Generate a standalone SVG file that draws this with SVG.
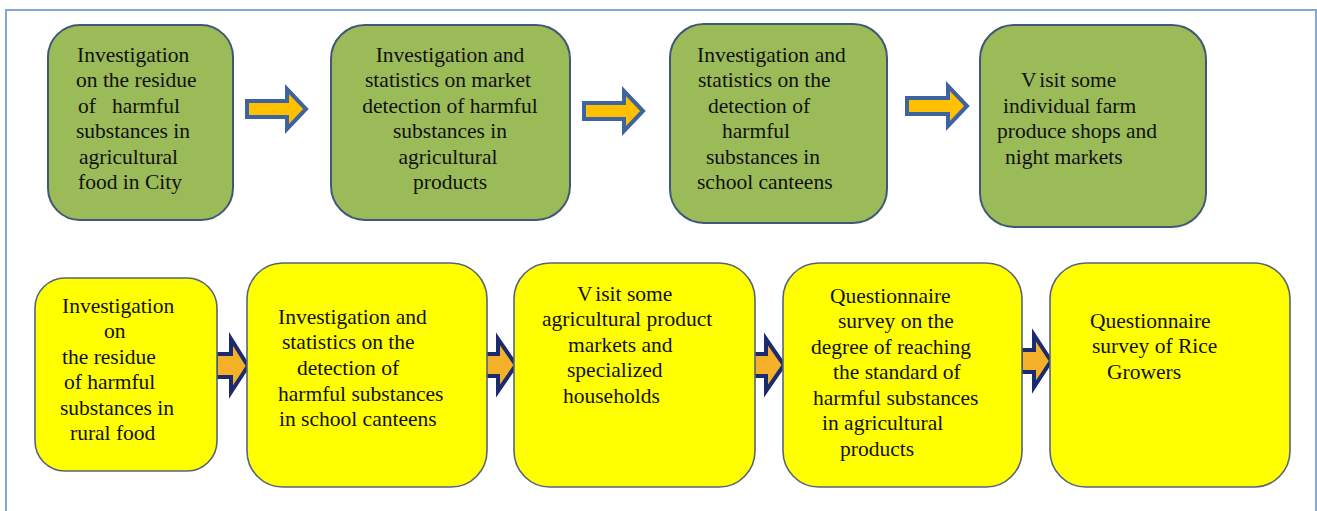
<svg xmlns="http://www.w3.org/2000/svg" width="1317" height="511" viewBox="0 0 1317 511">
<style>
.frame{fill:#ffffff;stroke:#86a6d6;stroke-width:2}
.g{fill:#9bbb59;stroke:#3f5878;stroke-width:2}
.y{fill:#ffff00;stroke:#56647a;stroke-width:1.6}
.t{font-family:"Liberation Serif","Times New Roman",serif;font-size:21.5px;fill:#111111}
.m{text-anchor:middle}
.ta{fill:#ffc000;stroke:#3e63a0;stroke-width:4;stroke-linejoin:miter}
.ba{fill:#f5b02a;stroke:#1c2a6e;stroke-width:4;stroke-linejoin:miter}
</style>
<rect x="0" y="0" width="1317" height="511" fill="#ffffff"/>
<rect class="frame" x="6" y="10" width="1310" height="520"/>

<g id="connectors">
<path class="ta" d="M247,101 L287,101 L287,89 L306,109 L287,129 L287,117 L247,117 Z"/>
<path class="ta" d="M584,103 L624,103 L624,91 L643,111 L624,131 L624,119 L584,119 Z"/>
<path class="ta" d="M907,98 L948,98 L948,86 L967,106 L948,126 L948,114 L907,114 Z"/>
<path class="ba" d="M216,354 L231,354 L231,339 L248,366 L231,392 L231,377 L216,377 Z"/>
<path class="ba" d="M484,354 L498,354 L498,339 L516,365 L498,391 L498,376 L484,376 Z"/>
<path class="ba" d="M753,354 L766,354 L766,339 L784,365 L766,391 L766,376 L753,376 Z"/>
<path class="ba" d="M1021,350 L1034,350 L1034,335 L1051,361 L1034,387 L1034,372 L1021,372 Z"/>
</g>

<g id="n1">
<rect class="g" x="48" y="25" width="185" height="195" rx="32"/>
<text class="t" x="77" y="62">Investigation</text>
<text class="t" x="76" y="87">on the  residue</text>
<text class="t" x="78" y="113">of<tspan dx="16">harmful</tspan></text>
<text class="t" x="76" y="138">substances in</text>
<text class="t" x="79" y="164">agricultural</text>
<text class="t" x="78" y="189">food in City</text>
</g>

<g id="n2">
<rect class="g" x="331" y="25" width="239" height="195" rx="34"/>
<text class="t m" x="450" y="62">Investigation  and</text>
<text class="t m" x="448" y="87">statistics on market</text>
<text class="t m" x="450" y="113">detection of harmful</text>
<text class="t m" x="450" y="138">substances in</text>
<text class="t m" x="448" y="164">agricultural</text>
<text class="t m" x="450" y="189">products</text>
</g>

<g id="n3">
<rect class="g" x="670" y="24" width="217" height="199" rx="34"/>
<text class="t" x="697" y="62">Investigation and</text>
<text class="t" x="698" y="87">statistics on the</text>
<text class="t" x="708" y="113">detection  of</text>
<text class="t" x="722" y="138">harmful</text>
<text class="t" x="706" y="164">substances in</text>
<text class="t" x="697" y="189">school canteens</text>
</g>

<g id="n4">
<rect class="g" x="980" y="25" width="226" height="202" rx="34"/>
<text class="t" x="1021" y="87">V<tspan dx="4">isit some</tspan></text>
<text class="t" x="1003" y="113">individual  farm</text>
<text class="t" x="997" y="138">produce shops and</text>
<text class="t" x="1005" y="164">night markets</text>
</g>

<g id="n5">
<rect class="y" x="35" y="278" width="182" height="193" rx="30"/>
<text class="t" x="62" y="313">Investigation</text>
<text class="t" x="104" y="338">on</text>
<text class="t" x="62" y="364">the  residue</text>
<text class="t" x="64" y="389">of  harmful</text>
<text class="t" x="60" y="415">substances in</text>
<text class="t" x="70" y="440">rural food</text>
</g>

<g id="n6">
<rect class="y" x="247" y="263" width="240" height="224" rx="36"/>
<text class="t" x="278" y="324">Investigation  and</text>
<text class="t" x="282" y="349">statistics on the</text>
<text class="t" x="297" y="375">detection  of</text>
<text class="t" x="278" y="401">harmful substances</text>
<text class="t" x="279" y="426">in school canteens</text>
</g>

<g id="n7">
<rect class="y" x="514" y="263" width="241" height="224" rx="36"/>
<text class="t" x="577" y="301">V<tspan dx="4">isit some</tspan></text>
<text class="t" x="542" y="326">agricultural  product</text>
<text class="t" x="568" y="352">markets  and</text>
<text class="t" x="567" y="377">specialized</text>
<text class="t" x="563" y="403">households</text>
</g>

<g id="n8">
<rect class="y" x="783" y="263" width="239" height="224" rx="36"/>
<text class="t" x="830" y="303">Questionnaire</text>
<text class="t" x="838" y="328">survey on the</text>
<text class="t" x="811" y="354">degree of reaching</text>
<text class="t" x="833" y="379">the standard of</text>
<text class="t" x="813" y="405">harmful substances</text>
<text class="t" x="822" y="430">in agricultural</text>
<text class="t" x="840" y="456">products</text>
</g>

<g id="n9">
<rect class="y" x="1050" y="263" width="240" height="224" rx="36"/>
<text class="t" x="1090" y="328">Questionnaire</text>
<text class="t" x="1092" y="353">survey of Rice</text>
<text class="t" x="1107" y="379">Growers</text>
</g>
</svg>
